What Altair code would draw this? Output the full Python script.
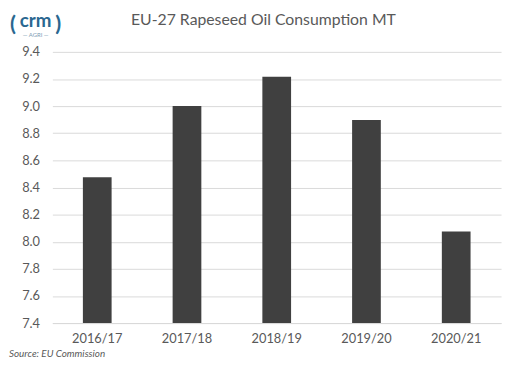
import altair as alt
import pandas as pd

seasons = ["2016/17", "2017/18", "2018/19", "2019/20", "2020/21"]
consumption = [8.475, 9.0, 9.217, 8.897, 8.075]
y_ticks = [7.4, 7.6, 7.8, 8.0, 8.2, 8.4, 8.6, 8.8, 9.0, 9.2, 9.4]

df = pd.DataFrame({"season": seasons, "value": consumption})
one = pd.DataFrame({"k": [0]})

FONT = "Lato"
GREY = "#595959"
BLUE = "#2a6790"

bars = alt.Chart(df).mark_bar(color="#404040", clip=True).encode(
    x=alt.X("season:N", sort=seasons, title=None,
            scale=alt.Scale(paddingInner=0.68, paddingOuter=0.34),
            axis=alt.Axis(labelAngle=0, labelFont=FONT, labelFontSize=13,
                          labelColor=GREY, ticks=False, domain=True,
                          domainColor="#d9d9d9", labelPadding=10,
                          labelBaseline="top")),
    y=alt.Y("value:Q", title=None,
            scale=alt.Scale(domain=[7.4, 9.4], nice=False, zero=False),
            axis=alt.Axis(values=y_ticks, format=".1f", labelFont=FONT,
                          labelFontSize=13, labelColor=GREY, ticks=False,
                          tickSize=0, domain=False, grid=True,
                          gridColor="#d9d9d9", labelPadding=13)),
)

def label(text, x, y, size, color, **kw):
    return alt.Chart(one).mark_text(
        text=text, font=FONT, fontSize=size, color=color,
        align=kw.pop("align", "center"), baseline=kw.pop("baseline", "middle"),
        **kw
    ).encode(x=alt.value(x), y=alt.value(y))

title = label("EU-27 Rapeseed Oil Consumption MT", 214, -32, 16, GREY)
source = label("Source: EU Commission", -44, 306, 10, GREY,
               align="left", fontStyle="italic")
logo = label("crm", -17, -25, 19, BLUE, fontWeight="bold",
             baseline="alphabetic")
logo_sub = label("— AGRI —", -17, -17, 6, "#7a9bb3")
laurel_l = label("(", -40, -28, 22, BLUE, fontWeight="bold")
laurel_r = label(")", 6, -28, 22, BLUE, fontWeight="bold")

chart = alt.layer(bars, title, source, logo, logo_sub, laurel_l, laurel_r).properties(
    width=455, height=275,
    autosize=alt.AutoSizeParams(type="none"),
    padding={"left": 45, "top": 42, "right": 5, "bottom": 38},
).configure_view(stroke=None)

chart.save("out.html", embed_options={"renderer": "svg", "actions": False})
